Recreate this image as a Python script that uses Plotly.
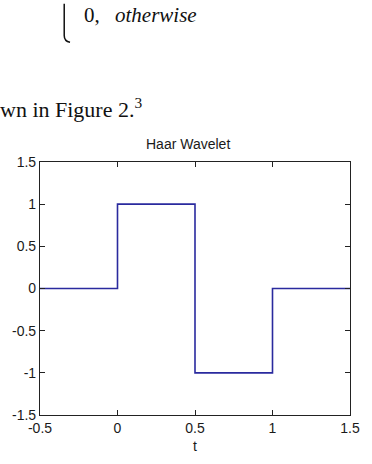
import plotly.graph_objects as go

# data
t_vals = [-0.5, 0, 0.5, 1, 1.5]
psi_vals = [0, 1, -1, 0, 0]
x_ticks = [-0.5, 0, 0.5, 1, 1.5]
x_tick_text = ["-0.5", "0", "0.5", "1", "1.5"]
y_ticks = [-1.5, -1, -0.5, 0, 0.5, 1, 1.5]
y_tick_text = ["-1.5", "-1", "-0.5", "0", "0.5", "1", "1.5"]

W, H = 372, 464
L, R, T, B = 39, 13, 162, 40
pw, ph = W - L - R, H - T - B


def px(x):
    return (x - L) / pw


def py(y):
    return (H - B - y) / ph


tick_font = dict(family="Liberation Sans, Arial, sans-serif", size=14, color="#1a1a1a")

fig = go.Figure()
fig.add_trace(go.Scatter(
    x=t_vals, y=psi_vals, mode="lines", line_shape="hv",
    line=dict(color="#2a2a9e", width=1.6), showlegend=False,
))

fig.update_layout(
    width=W, height=H,
    margin=dict(l=L, r=R, t=T, b=B, pad=0),
    paper_bgcolor="white", plot_bgcolor="white",
    xaxis=dict(
        range=[-0.5, 1.5], tickvals=x_ticks, ticktext=x_tick_text,
        showgrid=False, zeroline=False, showline=True, mirror="ticks",
        ticks="inside", ticklen=5, tickcolor="#222", linecolor="#222", linewidth=1.2,
        tickfont=tick_font, title=dict(text="t", font=tick_font, standoff=6),
    ),
    yaxis=dict(
        range=[-1.5, 1.5], tickvals=y_ticks, ticktext=y_tick_text,
        showgrid=False, zeroline=False, showline=True, mirror="ticks",
        ticks="inside", ticklen=5, tickcolor="#222", linecolor="#222", linewidth=1.2,
        tickfont=tick_font,
    ),
)

serif = "Liberation Serif, Times New Roman, serif"
annotations = [
    dict(text="Haar Wavelet", x=px(192), y=py(143), xref="paper", yref="paper",
         showarrow=False, font=tick_font, xanchor="center", yanchor="middle"),
    dict(text="wn in Figure 2.<sup>3</sup>", x=px(-4), y=py(106), xref="paper", yref="paper",
         showarrow=False, font=dict(family=serif, size=22, color="#111"),
         xanchor="left", yanchor="middle"),
    dict(text="0,", x=px(82), y=py(-5), xref="paper", yref="paper",
         showarrow=False, font=dict(family=serif, size=21, color="#111"),
         xanchor="left", yanchor="top"),
    dict(text="<i>otherwise</i>", x=px(114), y=py(-5), xref="paper", yref="paper",
         showarrow=False, font=dict(family=serif, size=21, color="#111"),
         xanchor="left", yanchor="top"),
]
fig.update_layout(annotations=annotations)

# brace fragment (bottom part of a left curly brace)
path = (f"M {px(64)},{py(-2)} L {px(64)},{py(31)} "
        f"Q {px(64)},{py(37)} {px(70)},{py(38)}")
fig.add_shape(type="path", path=path, xref="paper", yref="paper",
              line=dict(color="#111", width=1.5))

fig.write_html("out.html")
